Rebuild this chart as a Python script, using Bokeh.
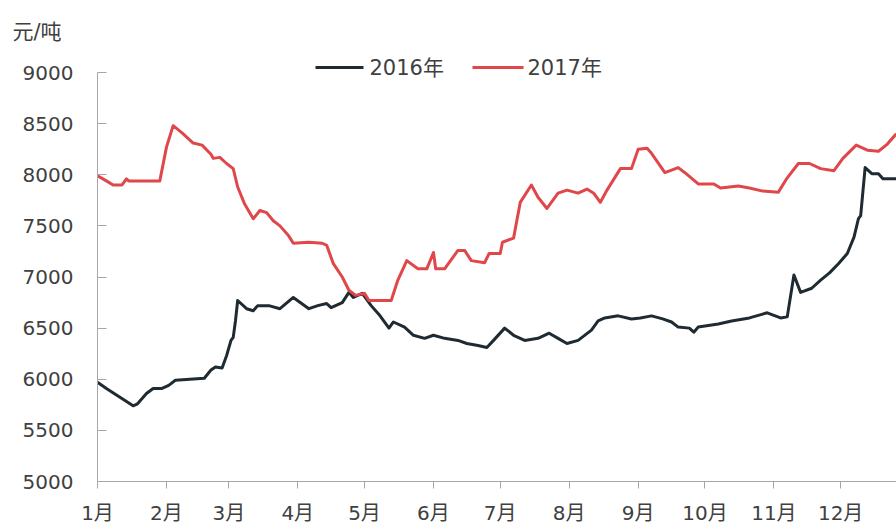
from bokeh.plotting import figure
from bokeh.models import Range1d, FixedTicker, Title
from bokeh.core.properties import value
from bokeh.embed import file_html
from bokeh.resources import INLINE

# ---- data (day of year, price in 元/吨) ----
days_2016 = [0, 4, 16, 18, 22, 25, 29, 32, 35, 48, 51, 53, 56, 58, 60, 61, 62, 63,
             67, 70, 72, 77, 82, 88, 95, 99, 103, 105, 110, 113, 115, 119, 123, 127,
             131, 133, 138, 142, 147, 151, 156, 162, 166, 171, 175, 178, 183, 187,
             192, 198, 203, 207, 211, 216, 222, 225, 228, 234, 240, 244, 249, 254,
             258, 261, 266, 268, 270, 279, 285, 293, 301, 307, 310, 313, 316, 321,
             325, 329, 333, 337, 340, 342, 343, 345, 348, 351, 353, 359]
price_2016 = [5970, 5910, 5740, 5760, 5860, 5910, 5910, 5940, 5990, 6010, 6090, 6120,
              6110, 6230, 6380, 6410, 6570, 6770, 6690, 6670, 6720, 6720, 6690, 6800,
              6690, 6720, 6740, 6700, 6750, 6850, 6800, 6840, 6720, 6620, 6500, 6560,
              6510, 6430, 6400, 6430, 6400, 6380, 6350, 6330, 6310, 6380, 6500, 6430,
              6380, 6400, 6450, 6400, 6350, 6380, 6480, 6570, 6600, 6620, 6590, 6600,
              6620, 6590, 6560, 6510, 6500, 6460, 6510, 6540, 6570, 6600, 6650, 6600,
              6610, 7020, 6850, 6890, 6970, 7040, 7130, 7230, 7390, 7570, 7600, 8070,
              8010, 8010, 7960, 7960]

days_2017 = [0, 4, 7, 11, 13, 14, 28, 31, 34, 38, 43, 47, 51, 52, 55, 58, 61, 63, 66,
             70, 73, 76, 79, 82, 86, 88, 95, 101, 103, 106, 110, 113, 116, 120, 122,
             132, 135, 139, 144, 148, 151, 152, 156, 162, 165, 168, 174, 176, 181, 182,
             187, 190, 195, 198, 202, 207, 211, 216, 220, 223, 226, 229, 235, 240, 243,
             247, 249, 255, 261, 264, 270, 277, 280, 288, 293, 299, 306, 310, 315, 320,
             325, 331, 335, 341, 346, 351, 355, 359]
price_2017 = [7990, 7940, 7900, 7900, 7960, 7940, 7940, 8270, 8480, 8410, 8310, 8290,
              8200, 8160, 8170, 8110, 8060, 7880, 7720, 7570, 7650, 7630, 7550, 7500,
              7400, 7330, 7340, 7330, 7310, 7130, 7000, 6870, 6820, 6840, 6770, 6770,
              6970, 7160, 7080, 7080, 7240, 7080, 7080, 7260, 7260, 7160, 7140, 7230,
              7230, 7340, 7380, 7730, 7900, 7780, 7670, 7820, 7850, 7820, 7860, 7820,
              7730, 7850, 8060, 8060, 8250, 8260, 8210, 8020, 8070, 8020, 7910, 7910,
              7870, 7890, 7870, 7840, 7830, 7970, 8110, 8110, 8060, 8040, 8160, 8290,
              8240, 8230, 8300, 8400]

month_days = [0, 31, 59, 90, 120, 151, 181, 212, 243, 273, 304, 334]
month_labels = ["1月", "2月", "3月", "4月", "5月", "6月", "7月", "8月", "9月",
                "10月", "11月", "12月"]
y_ticks = [5000, 5500, 6000, 6500, 7000, 7500, 8000, 8500, 9000]
series_names = ["2016年", "2017年"]
unit_label = "元/吨"

# ---- styling ----
FONT = "DejaVu Sans, Noto Sans CJK SC"
TXT = "#404040"
AX = "#a6a6a6"
C2016 = "#1f2b33"
C2017 = "#e0474a"

W, H = 896, 527
LEFT, TOP, BOTTOM_PX = 97, 46, 481
ppd = 2.225                      # pixels per day
ppv = 409 / 4000                 # pixels per 元
x_end = (W - LEFT) / ppd
y_top = 5000 + (BOTTOM_PX - TOP) / ppv

p = figure(width=W, height=H, output_backend="svg", toolbar_location=None,
           x_range=Range1d(0, x_end), y_range=Range1d(5000, y_top),
           min_border_left=LEFT, min_border_right=0, min_border_top=TOP,
           min_border_bottom=H - BOTTOM_PX)
p.outline_line_color = None
p.grid.visible = False
p.background_fill_color = "white"
p.border_fill_color = "white"

# unit label as a left-shifted title
p.add_layout(Title(text=unit_label, align="left", offset=12 - LEFT, standoff=5,
                   text_font=FONT, text_font_size="21px", text_font_style="normal",
                   text_color=TXT, vertical_align="bottom"), "above")

p.line(days_2016, price_2016, line_color=C2016, line_width=3, line_join="round")
p.line(days_2017, price_2017, line_color=C2017, line_width=3, line_join="round")

# axes
xa = p.xaxis[0]
xa.ticker = FixedTicker(ticks=month_days)
xa.major_label_overrides = {d: l for d, l in zip(month_days, month_labels)}
xa.axis_line_color = AX
xa.major_tick_line_color = AX
xa.major_tick_out = 7
xa.major_tick_in = 0
xa.minor_tick_line_color = None
xa.major_label_standoff = 12
xa.major_label_text_font = FONT
xa.major_label_text_font_size = "20px"
xa.major_label_text_color = TXT

ya = p.yaxis[0]
ya.ticker = FixedTicker(ticks=y_ticks)
ya.bounds = (5000, 9000)
ya.axis_line_color = AX
ya.major_tick_line_color = AX
ya.major_tick_in = 9
ya.major_tick_out = 0
ya.minor_tick_line_color = None
ya.major_label_standoff = 24
ya.major_label_text_font = FONT
ya.major_label_text_font_size = "20px"
ya.major_label_text_color = TXT

# legend (drawn in data space above the 9000 bound)
def px2day(px):
    return (px - LEFT) / ppd

def py2val(py):
    return 5000 + (BOTTOM_PX - py) / ppv

leg_y = py2val(67)
p.segment(x0=[px2day(315), px2day(472)], y0=[leg_y, leg_y],
          x1=[px2day(363), px2day(523)], y1=[leg_y, leg_y],
          line_color=[C2016, C2017], line_width=3)
p.text(x=[px2day(369), px2day(527)], y=[leg_y, leg_y], text=series_names,
       text_font=value(FONT), text_font_size="21px", text_color=TXT,
       text_baseline="middle", text_align="left")

open("out.html", "w").write(file_html(p, INLINE))
